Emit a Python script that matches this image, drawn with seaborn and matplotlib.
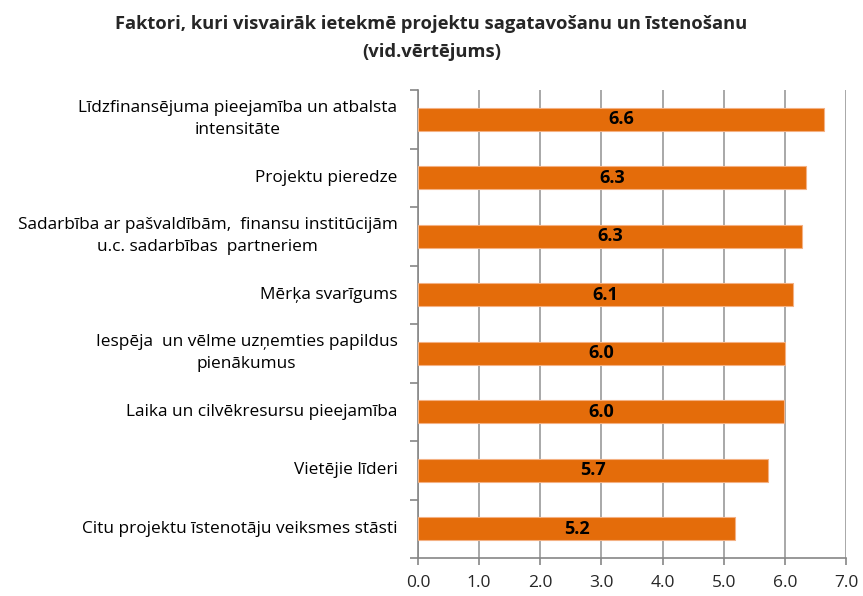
import numpy as np
import pandas as pd
import matplotlib
matplotlib.use("Agg")
import matplotlib.pyplot as plt
import seaborn as sns

# chart data
factors = [
    "Līdzfinansējuma pieejamība un atbalsta\nintensitāte",
    "Projektu pieredze",
    "Sadarbība ar pašvaldībām,  finansu institūcijām\nu.c. sadarbības  partneriem",
    "Mērķa svarīgums",
    "Iespēja  un vēlme uzņemties papildus\npienākumus",
    "Laika un cilvēkresursu pieejamība",
    "Vietējie līderi",
    "Citu projektu īstenotāju veiksmes stāsti",
]
scores = [6.64, 6.34, 6.28, 6.13, 6.00, 5.98, 5.73, 5.19]
x_ticks = [0, 1, 2, 3, 4, 5, 6, 7]

df = pd.DataFrame({"factor": factors, "score": scores})

sns.set_style("white")
plt.rcParams["font.family"] = ["Open Sans", "DejaVu Sans"]

fig = plt.figure(figsize=(8.63, 5.96), dpi=100)
ax = fig.add_axes([418 / 863, 1 - 558 / 596, (846 - 418) / 863, (558 - 90) / 596])

sns.barplot(data=df, x="score", y="factor", orient="h", color="#E46C0A",
            width=0.39, edgecolor="#F4B183", linewidth=0.8, saturation=1, ax=ax, zorder=3)

# value labels centred in bars
for i, v in enumerate(scores):
    ax.text(v / 2, i, f"{v:.1f}", ha="center", va="center",
            fontsize=13, fontweight="bold", color="black", zorder=4)

ax.set_xlim(0, 7)
ax.set_ylim(len(factors) - 0.5, -0.5)
ax.set_xticks(x_ticks)
ax.set_xticklabels([f"{t:.1f}" for t in x_ticks], fontsize=12.5)
ax.xaxis.grid(True, color="#9a9a9a", linewidth=1.2, zorder=0)
ax.set_axisbelow(True)

# category names drawn as centred multi-line text left of the axis
ax.set_yticks(range(len(factors)))
ax.set_yticklabels([])
for i, name in enumerate(factors):
    ax.text(-0.048, i, name, transform=ax.get_yaxis_transform(), ha="right", va="center",
            multialignment="center", fontsize=12.4, color="black", linespacing=1.5)

# tick marks on category boundaries
ax.tick_params(axis="y", which="major", left=False, length=0)
ax.set_yticks(np.arange(len(factors) + 1) - 0.5, minor=True)
ax.tick_params(axis="y", which="minor", left=True, length=6, color="#868686", width=1.2, direction="out")
ax.tick_params(axis="x", which="major", bottom=True, length=5, color="#868686", width=1.2,
               direction="out", pad=7)

for side in ["top", "right"]:
    ax.spines[side].set_visible(False)
for side in ["left", "bottom"]:
    ax.spines[side].set_color("#868686")
    ax.spines[side].set_linewidth(1.2)

ax.set_xlabel("")
ax.set_ylabel("")

fig.suptitle("Faktori, kuri visvairāk ietekmē projektu sagatavošanu un īstenošanu\n(vid.vērtējums)",
             x=0.5, y=0.975, fontsize=13.2, fontweight="bold", linespacing=1.7)

plt.savefig("out.png", dpi=100)
